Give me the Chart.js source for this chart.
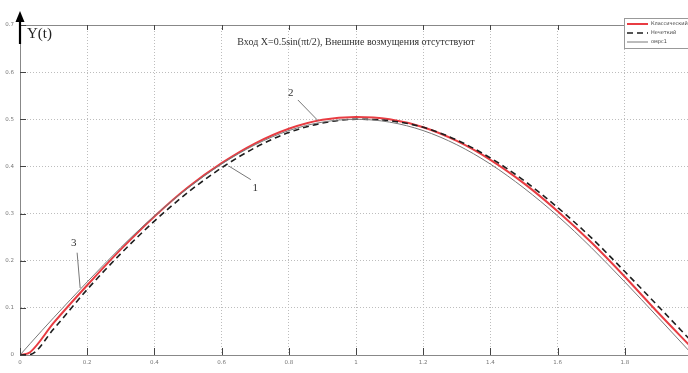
<!DOCTYPE html>
<html>
<head>
<meta charset="utf-8">
<script src="https://cdn.jsdelivr.net/npm/chart.js@4"></script>
<style>
  html, body { margin: 0; padding: 0; background: #fff; overflow: hidden; }
  #wrap { width: 692px; height: 373px; position: relative; }
</style>
</head>
<body>
<div id="wrap"><canvas id="myChart"></canvas></div>
<script>
let times = [0, 0.03, 0.1, 0.2, 0.3, 0.4, 0.5, 0.6, 0.7, 0.8, 0.9, 1.0, 1.1, 1.2, 1.3, 1.4, 1.5, 1.6, 1.7, 1.8, 1.9, 2.0];

let classicValues = [0, 0.006, 0.068, 0.148, 0.224, 0.294, 0.356, 0.407, 0.449, 0.480, 0.499, 0.505, 0.500, 0.483, 0.454, 0.414, 0.364, 0.305, 0.239, 0.166, 0.089, 0.015];
let fuzzyValues   = [0, 0.001, 0.055, 0.139, 0.215, 0.284, 0.345, 0.397, 0.440, 0.472, 0.492, 0.500, 0.497, 0.483, 0.456, 0.418, 0.370, 0.313, 0.249, 0.177, 0.103, 0.028];
let refValues     = [0, 0.024, 0.079, 0.155, 0.228, 0.295, 0.354, 0.405, 0.446, 0.476, 0.494, 0.500, 0.494, 0.476, 0.446, 0.405, 0.354, 0.295, 0.228, 0.155, 0.079, 0.002];

let seriesNames = ["Классический", "Нечеткий", "омрс1"];
let xTicks = [0, 0.2, 0.4, 0.6, 0.8, 1, 1.2, 1.4, 1.6, 1.8];
let yTicks = [0, 0.1, 0.2, 0.3, 0.4, 0.5, 0.6, 0.7];

// callouts: [label, labelX, labelY, fromX, fromY, toX, toY] in data units
let callouts = [
  ["1", 0.700, 0.355, 0.687, 0.372, 0.621, 0.401],
  ["2", 0.806, 0.555, 0.827, 0.541, 0.887, 0.497],
  ["3", 0.160, 0.237, 0.170, 0.217, 0.179, 0.142]
];

function pts(vals) {
  return times.map(function(t, i) { return { x: t, y: vals[i] }; });
}

const data = {
  datasets: [
    { label: seriesNames[0], data: pts(classicValues), borderColor: 'rgb(232, 60, 66)', borderWidth: 2, order: 3 },
    { label: seriesNames[1], data: pts(fuzzyValues), borderColor: 'rgb(30, 30, 30)', borderWidth: 1.6, borderDash: [6, 4], order: 2 },
    { label: seriesNames[2], data: pts(refValues), borderColor: 'rgb(120, 120, 120)', borderWidth: 1, order: 1 }
  ]
};

const decor = {
  id: 'decor',
  afterDraw: function(chart) {
    const ctx = chart.ctx;
    const xs = chart.scales.x, ys = chart.scales.y;
    const a = chart.chartArea;
    ctx.save();

    // top border
    ctx.strokeStyle = '#888';
    ctx.lineWidth = 1;
    ctx.beginPath();
    ctx.moveTo(a.left, a.top + 0.5);
    ctx.lineTo(a.right, a.top + 0.5);
    ctx.stroke();

    // tick marks inside the axes
    ctx.strokeStyle = '#444';
    ctx.lineWidth = 1;
    xTicks.forEach(function(t) {
      const px = Math.round(xs.getPixelForValue(t)) + 0.5;
      ctx.beginPath();
      ctx.moveTo(px, a.bottom); ctx.lineTo(px, a.bottom - 7);
      ctx.moveTo(px, a.top); ctx.lineTo(px, a.top + 5);
      ctx.stroke();
    });
    yTicks.forEach(function(v) {
      const py = Math.round(ys.getPixelForValue(v)) + 0.5;
      ctx.beginPath();
      ctx.moveTo(a.left, py); ctx.lineTo(a.left + 6, py);
      ctx.stroke();
    });

    // arrow on y axis
    ctx.fillStyle = '#000';
    ctx.strokeStyle = '#000';
    ctx.lineWidth = 2.2;
    ctx.beginPath();
    ctx.moveTo(a.left, 44); ctx.lineTo(a.left, 19);
    ctx.stroke();
    ctx.beginPath();
    ctx.moveTo(a.left, 11);
    ctx.lineTo(a.left - 4.5, 22);
    ctx.lineTo(a.left + 4.5, 22);
    ctx.closePath();
    ctx.fill();

    ctx.font = '15px "Liberation Serif"';
    ctx.textBaseline = 'alphabetic';
    ctx.textAlign = 'left';
    ctx.fillStyle = '#222';
    ctx.fillText('Y(t)', 27, 38);

    // title
    ctx.font = '10px "Liberation Serif"';
    ctx.textAlign = 'center';
    ctx.fillStyle = '#333';
    ctx.fillText('Вход X=0.5sin(\u03C0t/2), Внешние возмущения отсутствуют', 356, 45);

    // callouts
    ctx.strokeStyle = '#777';
    ctx.lineWidth = 1;
    ctx.font = '11px "Liberation Serif"';
    ctx.fillStyle = '#333';
    callouts.forEach(function(c) {
      ctx.beginPath();
      ctx.moveTo(xs.getPixelForValue(c[3]), ys.getPixelForValue(c[4]));
      ctx.lineTo(xs.getPixelForValue(c[5]), ys.getPixelForValue(c[6]));
      ctx.stroke();
      ctx.textBaseline = 'middle';
      ctx.fillText(c[0], xs.getPixelForValue(c[1]), ys.getPixelForValue(c[2]));
    });

    // legend box
    const bx = 624, by = 18, bw = 70, bh = 30;
    ctx.fillStyle = '#fff';
    ctx.fillRect(bx, by, bw, bh);
    ctx.strokeStyle = '#999';
    ctx.strokeRect(bx + 0.5, by + 0.5, bw, bh);
    ctx.font = '5px "DejaVu Sans"';
    ctx.textAlign = 'left';
    ctx.textBaseline = 'middle';
    chart.data.datasets.forEach(function(ds, i) {
      const ly = by + 6 + i * 9;
      ctx.strokeStyle = ds.borderColor;
      ctx.lineWidth = ds.borderWidth;
      ctx.setLineDash(ds.borderDash || []);
      ctx.beginPath();
      ctx.moveTo(bx + 3, ly); ctx.lineTo(bx + 24, ly);
      ctx.stroke();
      ctx.setLineDash([]);
      ctx.fillStyle = '#444';
      ctx.fillText(ds.label, bx + 27, ly);
    });

    ctx.restore();
  }
};

const config = {
  type: 'line',
  data: data,
  options: {
    responsive: true,
    maintainAspectRatio: false,
    animation: false,
    layout: { padding: { top: 25, right: 0, left: 0, bottom: 0 } },
    elements: {
      point: { radius: 0 },
      line: { tension: 0.4, cubicInterpolationMode: 'monotone' }
    },
    plugins: {
      legend: { display: false },
      title: { display: false },
      tooltip: { enabled: false }
    },
    scales: {
      x: {
        type: 'linear',
        min: 0,
        max: 2,
        afterBuildTicks: function(axis) {
          axis.ticks = xTicks.map(function(v) { return { value: v }; });
        },
        afterFit: function(axis) { axis.height = 18; },
        ticks: {
          font: { size: 5.5, family: 'DejaVu Sans' },
          color: '#777',
          padding: 4,
          maxRotation: 0,
          callback: function(v) { return String(v); }
        },
        grid: { color: '#bdbdbd', drawTicks: false, lineWidth: 1 },
        border: { display: true, color: '#888', dash: [1, 2] }
      },
      y: {
        min: 0,
        max: 0.7,
        afterBuildTicks: function(axis) {
          axis.ticks = yTicks.map(function(v) { return { value: v }; });
        },
        afterFit: function(axis) { axis.width = 20; },
        ticks: {
          font: { size: 5.5, family: 'DejaVu Sans' },
          color: '#777',
          padding: 6,
          callback: function(v) { return String(Math.round(v * 10) / 10); }
        },
        grid: { color: '#bdbdbd', drawTicks: false, lineWidth: 1 },
        border: { display: true, color: '#888', dash: [1, 2] }
      }
    }
  },
  plugins: [decor]
};

const chart = new Chart(document.getElementById('myChart'), config);
</script>
</body>
</html>
